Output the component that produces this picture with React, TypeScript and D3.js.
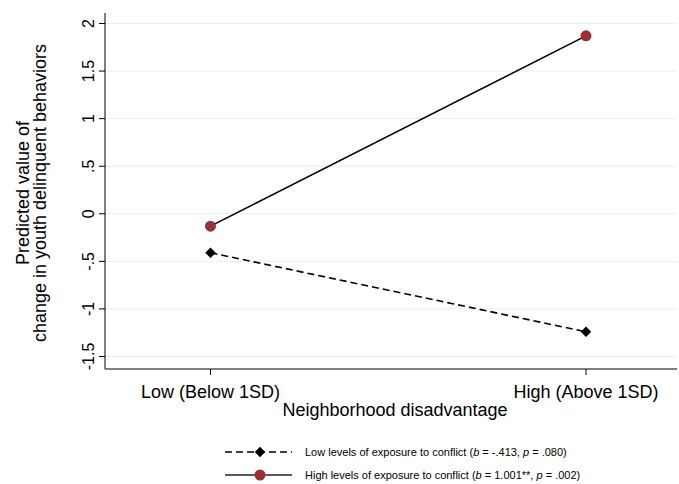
import React from 'react';
import * as d3 from 'd3';

// chart data
const categories = ['Low (Below 1SD)', 'High (Above 1SD)'];
const lowConflict = [-0.41, -1.24];
const highConflict = [-0.13, 1.87];
const yTicks = [-1.5, -1, -0.5, 0, 0.5, 1, 1.5, 2];

const W = 679;
const H = 484;
const FONT = '"Liberation Sans", Arial, sans-serif';

const fmt = (v: number) => {
	const s = String(v);
	return s.replace(/^0\./, '.').replace(/^-0\./, '-.');
};

export default function App() {
	const left = 105;
	const right = 677;
	const top = 13;
	const bottom = 369;

	const x = d3.scaleLinear().domain([1, 2]).range([210.5, 586]);
	const y = d3.scaleLinear().domain([-1.5, 2]).range([356.5, 23.5]);

	const line = d3
		.line<number>()
		.x((_, i) => x(i + 1))
		.y((d) => y(d));

	const red = '#9a2f37';
	const diamond = d3.symbol().type(d3.symbolDiamond2).size(70)();

	return (
		<svg
			width={W}
			height={H}
			style={{ position: 'absolute', left: 0, top: 0, background: '#fff' }}
			fontFamily={FONT}>
			{/* gridlines */}
			{yTicks.map((t) => (
				<line
					key={'g' + t}
					x1={left}
					x2={right}
					y1={y(t)}
					y2={y(t)}
					stroke="#e6eff2"
					strokeWidth={1}
				/>
			))}
			{/* axes */}
			<line x1={left} x2={left} y1={top} y2={bottom} stroke="#000" strokeWidth={1} />
			<line x1={left} x2={right} y1={bottom} y2={bottom} stroke="#000" strokeWidth={1} />
			{yTicks.map((t) => (
				<g key={'t' + t}>
					<line x1={left - 6} x2={left} y1={y(t)} y2={y(t)} stroke="#000" />
					<text
						transform={`translate(${left - 11},${y(t)}) rotate(-90)`}
						textAnchor="middle"
						fontSize={16}>
						{fmt(t)}
					</text>
				</g>
			))}
			{categories.map((c, i) => (
				<g key={c}>
					<line x1={x(i + 1)} x2={x(i + 1)} y1={bottom} y2={bottom + 6} stroke="#000" />
					<text x={x(i + 1)} y={bottom + 29} textAnchor="middle" fontSize={18}>
						{c}
					</text>
				</g>
			))}
			<text x={395} y={416} textAnchor="middle" fontSize={18}>
				Neighborhood disadvantage
			</text>
			<g transform="translate(0,193) rotate(-90)">
				<text x={0} y={29} textAnchor="middle" fontSize={18}>
					Predicted value of
				</text>
				<text x={0} y={46} textAnchor="middle" fontSize={18}>
					change in youth delinquent behaviors
				</text>
			</g>
			{/* series */}
			<path
				d={line(lowConflict) || ''}
				fill="none"
				stroke="#000"
				strokeWidth={1.6}
				strokeDasharray="7,4"
			/>
			<path d={line(highConflict) || ''} fill="none" stroke="#000" strokeWidth={1.6} />
			{lowConflict.map((v, i) => (
				<path key={'d' + i} d={diamond || ''} transform={`translate(${x(i + 1)},${y(v)})`} fill="#000" />
			))}
			{highConflict.map((v, i) => (
				<circle key={'c' + i} cx={x(i + 1)} cy={y(v)} r={5.5} fill={red} />
			))}
			{/* legend */}
			<g fontSize={11}>
				<line x1={225} x2={292} y1={452} y2={452} stroke="#000" strokeWidth={1.6} strokeDasharray="7,4" />
				<path d={diamond || ''} transform="translate(260,452)" fill="#000" />
				<text x={305} y={456}>
					Low levels of exposure to conflict (<tspan fontStyle="italic">b</tspan> = -.413,{' '}
					<tspan fontStyle="italic">p</tspan> = .080)
				</text>
				<line x1={225} x2={292} y1={475} y2={475} stroke="#222" strokeWidth={1.6} />
				<circle cx={260} cy={475} r={5.5} fill={red} />
				<text x={305} y={479}>
					High levels of exposure to conflict (<tspan fontStyle="italic">b</tspan> = 1.001**,{' '}
					<tspan fontStyle="italic">p</tspan> = .002)
				</text>
			</g>
		</svg>
	);
}
